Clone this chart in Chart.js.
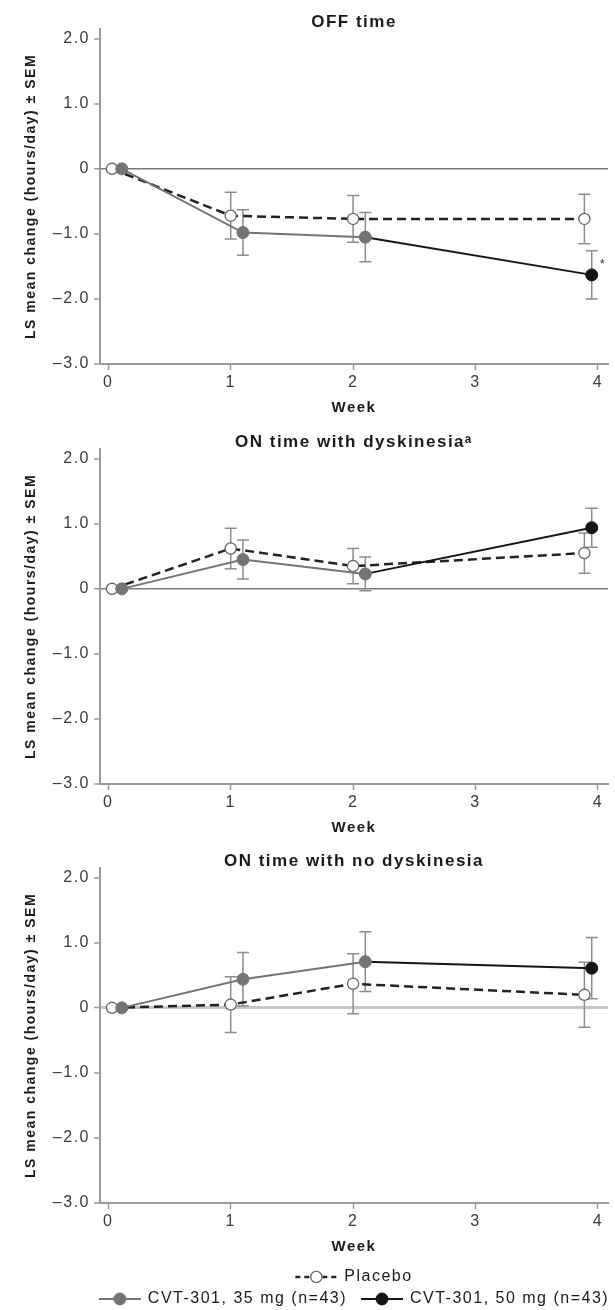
<!DOCTYPE html>
<html>
<head>
<meta charset="utf-8">
<title>CVT-301 diary outcomes</title>
<script src="https://cdn.jsdelivr.net/npm/chart.js@4.4.1/dist/chart.umd.min.js"></script>
<style>
  html, body { margin: 0; padding: 0; background: #ffffff; }
  #wrap { position: relative; width: 615px; height: 1310px; overflow: hidden; }
  .panel { position: absolute; left: 0; width: 615px; }
  canvas { display: block; }
</style>
</head>
<body>
<div id="wrap">
  <div class="panel" style="top:0;height:420px"><canvas id="offTime" width="615" height="420"></canvas></div>
  <div class="panel" style="top:420px;height:420px"><canvas id="onDysk" width="615" height="420"></canvas></div>
  <div class="panel" style="top:839px;height:471px"><canvas id="onNoDysk" width="615" height="471"></canvas></div>
</div>
<script>
// ---- data ---------------------------------------------------------------
const weeks = [0, 1, 2, 4];
const xTicks = [0, 1, 2, 3, 4];
const yTicks = [2, 1, 0, -1, -2, -3];
const panelTitles = ['OFF time', 'ON time with dyskinesia\u1D43', 'ON time with no dyskinesia'];
const seriesNames = ['Placebo', 'CVT-301, 35 mg (n=43)', 'CVT-301, 50 mg (n=43)'];
const yAxisTitle = 'LS mean change (hours/day) \u00B1 SEM';
const xAxisTitle = 'Week';

// OFF time
const offPlacebo = [0, -0.72, -0.77, -0.77];
const offPlaceboSem = [0, 0.36, 0.36, 0.38];
const off35 = [0, -0.98, -1.05];
const off35Sem = [0, 0.35, 0.38];
const off50 = [-1.63];
const off50Sem = [0.37];

// ON time with dyskinesia
const dyskPlacebo = [0, 0.62, 0.35, 0.55];
const dyskPlaceboSem = [0, 0.31, 0.27, 0.31];
const dysk35 = [0, 0.45, 0.23];
const dysk35Sem = [0, 0.30, 0.26];
const dysk50 = [0.94];
const dysk50Sem = [0.30];

// ON time with no dyskinesia
const noDyskPlacebo = [0, 0.05, 0.37, 0.20];
const noDyskPlaceboSem = [0, 0.43, 0.46, 0.50];
const noDysk35 = [0, 0.44, 0.71];
const noDysk35Sem = [0, 0.41, 0.46];
const noDysk50 = [0.61];
const noDysk50Sem = [0.47];

// ---- styling --------------------------------------------------------------
const FONT = "'Liberation Sans', Arial, Helvetica, sans-serif";
const AXIS_GREY = '#9a9a9a';
const TICK_TEXT = '#3a3a3a';
const TITLE_TEXT = '#1a1a1a';
const ERR_GREY = '#8c8c8c';
const LETTER_SPACING = '1.5px';

// horizontal nudges so overlapping markers stay readable
const DODGE = { placebo: [0.03, 0, 0, -0.11], c35: [0.11, 0.1, 0.1], c50: [-0.05] };

const STYLE = {
  c35: {
    borderColor: '#747474', backgroundColor: '#747474', borderWidth: 2,
    pointRadius: 6, pointBackgroundColor: '#747474', pointBorderColor: '#747474', pointBorderWidth: 1
  },
  c50: {
    borderColor: '#151515', backgroundColor: '#151515', borderWidth: 2,
    pointRadius: [0, 6], pointBackgroundColor: '#151515', pointBorderColor: '#151515', pointBorderWidth: 1
  },
  placebo: {
    borderColor: '#222222', backgroundColor: '#ffffff', borderWidth: 2.5, borderDash: [9, 5],
    pointRadius: 5.6, pointBackgroundColor: '#ffffff', pointBorderColor: '#666666', pointBorderWidth: 1.3
  }
};

const ZERO_LINE = [
  { color: '#7a7a7a', width: 1.5 },
  { color: '#7a7a7a', width: 1.5 },
  { color: '#c6c6c6', width: 3 }
];

// ---- plugins ----------------------------------------------------------------
// wider tracking for every text run on the canvas
const trackingPlugin = {
  id: 'tracking',
  beforeUpdate(chart) { chart.ctx.letterSpacing = LETTER_SPACING; },
  beforeDraw(chart) { chart.ctx.letterSpacing = LETTER_SPACING; }
};

// vertical ±SEM whiskers with caps, drawn under the series
const errorBarsPlugin = {
  id: 'errorBars',
  beforeDatasetsDraw(chart) {
    const { ctx, scales: { x, y } } = chart;
    ctx.save();
    ctx.strokeStyle = ERR_GREY;
    ctx.lineWidth = 1.5;
    ctx.setLineDash([]);
    chart.data.datasets.forEach(ds => {
      (ds.sem || []).forEach((e, i) => {
        if (!e) return;
        const p = ds.data[i];
        const px = x.getPixelForValue(p.x);
        const top = y.getPixelForValue(p.y + e);
        const bot = y.getPixelForValue(p.y - e);
        const cap = 6;
        ctx.beginPath();
        ctx.moveTo(px, top); ctx.lineTo(px, bot);
        ctx.moveTo(px - cap, top); ctx.lineTo(px + cap, top);
        ctx.moveTo(px - cap, bot); ctx.lineTo(px + cap, bot);
        ctx.stroke();
      });
    });
    ctx.restore();
  }
};

// significance marker beside a chosen point
const starPlugin = {
  id: 'star',
  afterDatasetsDraw(chart, args, opts) {
    if (!opts || !opts.show) return;
    const el = chart.getDatasetMeta(opts.dataset).data[opts.index];
    if (!el) return;
    const ctx = chart.ctx;
    ctx.save();
    ctx.fillStyle = TICK_TEXT;
    ctx.font = '13px ' + FONT;
    ctx.textAlign = 'left';
    ctx.textBaseline = 'middle';
    ctx.fillText(opts.text, el.x + 8, el.y - 10);
    ctx.restore();
  }
};

// two-row legend centred under the plot area
const legendRowsPlugin = {
  id: 'legendRows',
  afterDraw(chart, args, opts) {
    if (!opts || !opts.rows) return;
    const ctx = chart.ctx;
    const area = chart.chartArea;
    const cx = (area.left + area.right) / 2;
    ctx.save();
    ctx.font = opts.fontSize + 'px ' + FONT;
    ctx.textBaseline = 'middle';
    ctx.textAlign = 'left';
    opts.rows.forEach((row, r) => {
      const y = opts.rowY[r];
      const widths = row.map(di => opts.symbolWidth + opts.gap + ctx.measureText(chart.data.datasets[di].label).width);
      const total = widths.reduce((a, b) => a + b, 0) + opts.itemGap * (row.length - 1);
      let xPos = cx - total / 2;
      row.forEach((di, k) => {
        const ds = chart.data.datasets[di];
        const x0 = xPos, x1 = xPos + opts.symbolWidth;
        ctx.strokeStyle = ds.borderColor;
        ctx.lineWidth = ds.borderWidth;
        ctx.setLineDash(ds.borderDash ? [5, 4] : []);
        ctx.beginPath(); ctx.moveTo(x0, y); ctx.lineTo(x1, y); ctx.stroke();
        ctx.setLineDash([]);
        const rad = Array.isArray(ds.pointRadius) ? Math.max(...ds.pointRadius) : ds.pointRadius;
        ctx.beginPath();
        ctx.arc((x0 + x1) / 2, y, rad, 0, Math.PI * 2);
        ctx.fillStyle = ds.pointBackgroundColor;
        ctx.fill();
        ctx.lineWidth = ds.pointBorderWidth;
        ctx.strokeStyle = ds.pointBorderColor;
        ctx.stroke();
        ctx.fillStyle = TITLE_TEXT;
        ctx.fillText(ds.label, x1 + opts.gap, y);
        xPos += widths[k] + opts.itemGap;
      });
    });
    ctx.restore();
  }
};

// ---- chart builder -------------------------------------------------------------
function fmtY(v) {
  if (v === 0) return '0';
  return (v < 0 ? '\u2013' : '') + Math.abs(v).toFixed(1);
}

function buildChart(cfg) {
  const placeboPts = cfg.placebo.map((v, i) => ({ x: weeks[i] + DODGE.placebo[i], y: v }));
  const c35Pts = cfg.c35.map((v, i) => ({ x: weeks[i] + DODGE.c35[i], y: v }));
  const last35 = c35Pts[c35Pts.length - 1];
  const c50Pts = [{ x: last35.x, y: last35.y }].concat(
    cfg.c50.map((v, i) => ({ x: weeks[c35Pts.length + i] + DODGE.c50[i], y: v })));

  const datasets = [
    Object.assign({ label: seriesNames[1], data: c35Pts, sem: cfg.c35Sem }, STYLE.c35),
    Object.assign({ label: seriesNames[2], data: c50Pts, sem: [0].concat(cfg.c50Sem) }, STYLE.c50),
    Object.assign({ label: seriesNames[0], data: placeboPts, sem: cfg.placeboSem }, STYLE.placebo)
  ];

  const zero = ZERO_LINE[cfg.index];

  return new Chart(document.getElementById(cfg.canvas), {
    type: 'line',
    data: { datasets },
    plugins: [trackingPlugin, errorBarsPlugin, starPlugin, legendRowsPlugin],
    options: {
      responsive: false,
      animation: false,
      events: [],
      devicePixelRatio: 1,
      layout: { padding: { left: 0, right: 2, top: 0, bottom: cfg.legend ? 51 : 0 } },
      elements: { line: { tension: 0 } },
      scales: {
        x: {
          type: 'linear',
          min: -0.068,
          max: 4.083,
          afterBuildTicks: s => { s.ticks = xTicks.map(v => ({ value: v })); },
          afterFit: s => { s.height = 56; },
          border: { color: AXIS_GREY, width: 2 },
          grid: { drawOnChartArea: false, tickColor: AXIS_GREY, tickWidth: 1.5, tickLength: 6 },
          ticks: {
            autoSkip: false, maxRotation: 0, padding: 3, color: TICK_TEXT,
            font: { family: FONT, size: 16 },
            callback: v => String(v)
          },
          title: {
            display: true, text: xAxisTitle, color: TITLE_TEXT,
            font: { family: FONT, size: 15, weight: 'bold' },
            padding: { top: 0, bottom: 3 }
          }
        },
        y: {
          type: 'linear',
          min: -3,
          max: 2.15,
          afterBuildTicks: s => { s.ticks = yTicks.map(v => ({ value: v })); },
          afterFit: s => { s.width = 100; },
          border: { color: AXIS_GREY, width: 2 },
          grid: {
            drawOnChartArea: true,
            color: c => (c.tick && c.tick.value === 0 ? zero.color : 'rgba(0,0,0,0)'),
            lineWidth: c => (c.tick && c.tick.value === 0 ? zero.width : 0),
            tickColor: AXIS_GREY, tickWidth: 1.5, tickLength: 6
          },
          ticks: {
            autoSkip: false, padding: 4, color: TICK_TEXT,
            font: { family: FONT, size: 16 },
            callback: v => fmtY(v)
          },
          title: {
            display: true, text: yAxisTitle, color: TITLE_TEXT,
            font: { family: FONT, size: 14, weight: 'bold' },
            padding: { top: 22.6, bottom: 0 }
          }
        }
      },
      plugins: {
        legend: { display: false },
        tooltip: { enabled: false },
        title: {
          display: true, fullSize: false, text: cfg.title, color: TITLE_TEXT,
          font: { family: FONT, size: 17, weight: 'bold', lineHeight: '14px' },
          padding: { top: 15, bottom: 0 }
        },
        star: cfg.star ? { show: true, dataset: 1, index: 1, text: '*' } : { show: false },
        legendRows: cfg.legend ? {
          rows: [[2], [0, 1]], rowY: [438, 460], fontSize: 16,
          symbolWidth: 42, gap: 7, itemGap: 14
        } : {}
      }
    }
  });
}

buildChart({ index: 0, canvas: 'offTime', title: panelTitles[0],
  placebo: offPlacebo, placeboSem: offPlaceboSem, c35: off35, c35Sem: off35Sem,
  c50: off50, c50Sem: off50Sem, star: true });
buildChart({ index: 1, canvas: 'onDysk', title: panelTitles[1],
  placebo: dyskPlacebo, placeboSem: dyskPlaceboSem, c35: dysk35, c35Sem: dysk35Sem,
  c50: dysk50, c50Sem: dysk50Sem });
buildChart({ index: 2, canvas: 'onNoDysk', title: panelTitles[2],
  placebo: noDyskPlacebo, placeboSem: noDyskPlaceboSem, c35: noDysk35, c35Sem: noDysk35Sem,
  c50: noDysk50, c50Sem: noDysk50Sem, legend: true });
</script>
</body>
</html>
